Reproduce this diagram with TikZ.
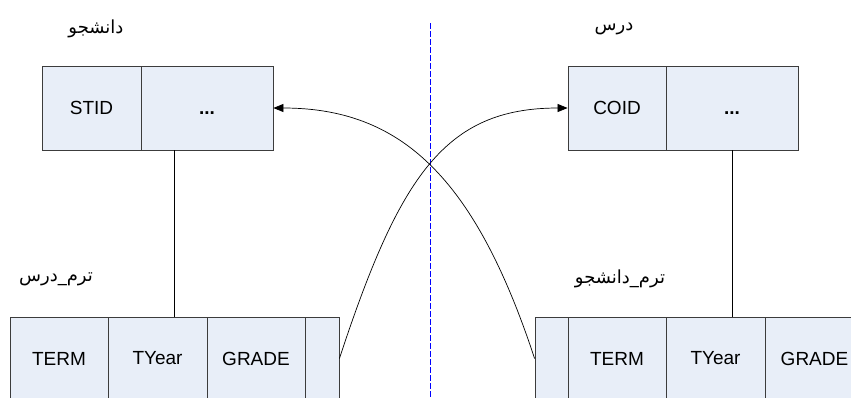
\documentclass[tikz,border=0pt]{standalone}
\usepackage{fontspec}
\setmainfont{Liberation Sans}
\newfontfamily\arabicfont[Script=Arabic]{DejaVu Sans}
\TeXXeTstate=1
\usetikzlibrary{arrows.meta}
\definecolor{cellfill}{RGB}{232,238,248}
\definecolor{celldraw}{RGB}{60,60,60}
\begin{document}
\begin{tikzpicture}[x=1pt,y=-1pt,
  cell/.style={draw=celldraw, fill=cellfill, line width=0.8pt, inner sep=0pt,
    minimum height=84pt, font=\fontsize{19}{22}\selectfont},
  bcell/.style={cell, minimum height=83pt},
  conn/.style={draw=black, line width=0.7pt},
  tip/.style={-{Triangle[length=10pt,width=8pt]}},
  lbl/.style={inner sep=0pt, font=\arabicfont\fontsize{18}{21}\selectfont},
  divider/.style={draw=blue, line width=0.8pt, dash pattern=on 6pt off 2pt}]
\useasboundingbox (0,0) rectangle (851,397);
\clip (0,0) rectangle (851,397);
% top boxes
\node[cell, minimum width=99pt] (tl1) at (91.5,108) {STID};
\node[cell, minimum width=132pt] (tl2) at (207,108) {\vphantom{STID}\textbf{...}};
\node[cell, minimum width=98pt] (tr1) at (617,108) {COID};
\node[cell, minimum width=132pt] (tr2) at (732,108) {\vphantom{STID}\textbf{...}};
% bottom boxes
\node[bcell, minimum width=98pt] (bl1) at (59,358.5) {TERM};
\node[bcell, minimum width=99pt] (bl2) at (157.5,358.5) {TYear};
\node[bcell, minimum width=98pt] (bl3) at (256,358.5) {GRADE};
\node[bcell, minimum width=34pt] (bl4) at (322,358.5) {};
\node[bcell, minimum width=33pt] (br1) at (551.5,358.5) {};
\node[bcell, minimum width=98pt] (br2) at (617,358.5) {TERM};
\node[bcell, minimum width=99pt] (br3) at (715.5,358.5) {TYear};
\node[bcell, minimum width=99pt] (br4) at (814.5,358.5) {GRADE};
% labels
\node[lbl] (lab1) at (96,29) {\beginR دانشجو\endR};
\node[lbl] (lab2) at (614,29) {\beginR درس\endR};
\node[lbl] (lab3) at (56,279) {\beginR ترم\_درس\endR};
\node[lbl] (lab4) at (620,279) {\beginR ترم\_دانشجو\endR};
% divider
\coordinate (dtop) at (430.5,23);
\coordinate (dbot) at (430.5,397);
\draw[divider] (dtop) -- (dbot);
% vertical links
\coordinate (cl) at (174,0);
\draw[conn] (tl2.south -| cl) -- (bl2.north -| cl);
\draw[conn] (tr2.south) -- (tr2.south |- br3.north);
% crossing arrows
\draw[conn, tip] (br1.west) .. controls +(-60,-182) and +(127,0) .. (tl2.east);
\draw[conn, tip] (bl4.east) .. controls +(60,-182) and +(-123,0) .. (tr1.west);
\end{tikzpicture}
\end{document}
